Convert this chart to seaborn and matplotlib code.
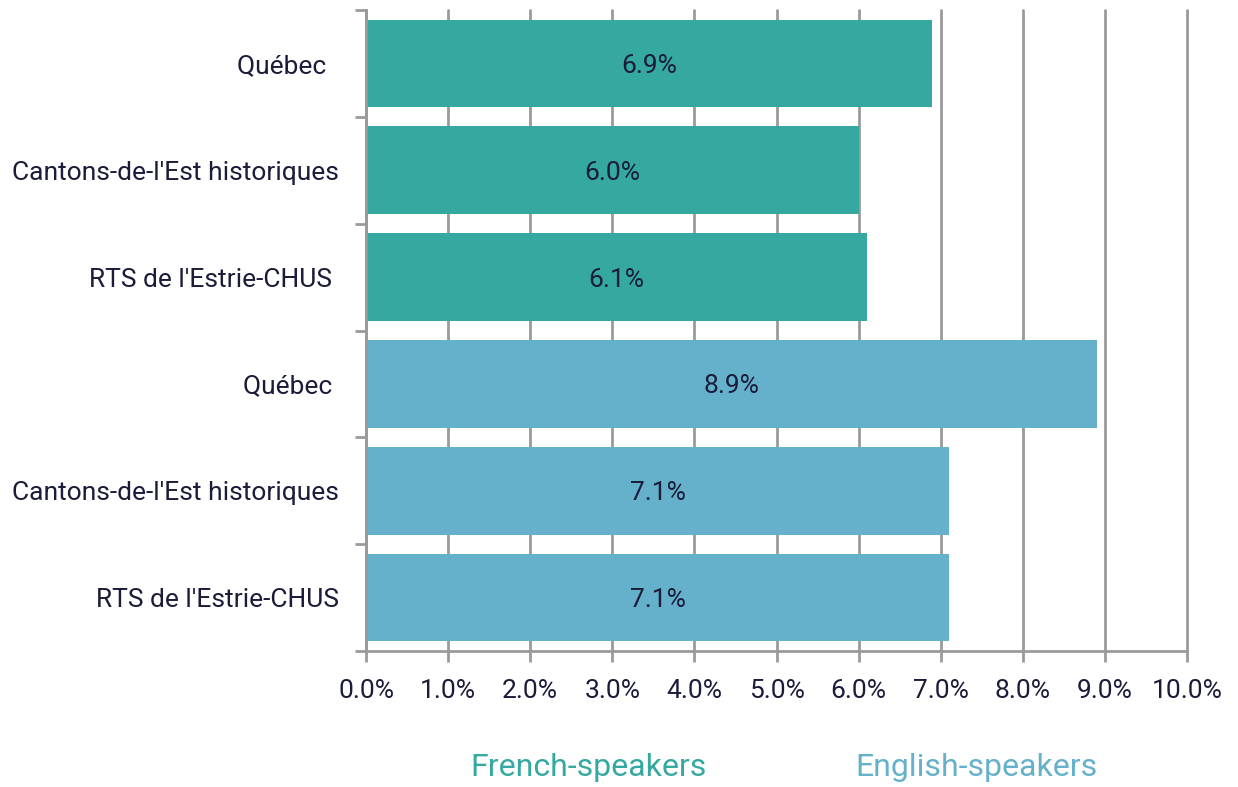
import pandas as pd
import matplotlib.pyplot as plt
import seaborn as sns

# Data
regions = ["Québec  ", "Cantons-de-l'Est historiques", "RTS de l'Estrie-CHUS ",
           "Québec ", "Cantons-de-l'Est historiques", "RTS de l'Estrie-CHUS"]
groups = ["French-speakers"] * 3 + ["English-speakers"] * 3
values = [6.9, 6.0, 6.1, 8.9, 7.1, 7.1]
xticks = [0, 1, 2, 3, 4, 5, 6, 7, 8, 9, 10]

colors = {"French-speakers": "#35A9A0", "English-speakers": "#65B1CB"}
text_color = "#1B1B3A"
grid_color = "#9A9A9A"

df = pd.DataFrame({"row": [str(i) for i in range(len(regions))],
                   "region": regions, "group": groups, "value": values})

sns.set_style("white")
plt.rcParams['font.family'] = ['Roboto', 'DejaVu Sans']

fig = plt.figure(figsize=(12.38, 7.87), dpi=100)
ax = fig.add_axes([366 / 1238, 1 - 651 / 787, (1187 - 366) / 1238, (651 - 10) / 787])

sns.barplot(data=df, x="value", y="row", hue="group", palette=colors,
            dodge=False, width=0.82, legend=False, orient="h", ax=ax,
            saturation=1, linewidth=0)

ax.set_xlim(0, 10)
ax.set_ylim(len(regions) - 0.5, -0.5)
ax.set_xticks(xticks)
ax.set_xticklabels([f"{t:.1f}%" for t in xticks], fontsize=19, color=text_color)

# category boundaries as ticks, labels at centres
n = len(regions)
ax.set_yticks([i - 0.5 for i in range(n + 1)])
ax.set_yticklabels([])
for i, lab in enumerate(regions):
    ax.text(-0.33, i, lab, ha="right", va="center_baseline", fontsize=19, color=text_color)

ax.tick_params(axis="x", length=8, width=2, color=grid_color, pad=12, direction="out", bottom=True)
ax.tick_params(axis="y", length=8, width=2, color=grid_color, direction="out", left=True)

ax.grid(axis="x", color=grid_color, linewidth=2)
for gl in ax.get_xgridlines():
    gl.set_clip_on(False)
ax.set_axisbelow(True)
for s in ["top", "right"]:
    ax.spines[s].set_visible(False)
for s in ["left", "bottom"]:
    ax.spines[s].set_color(grid_color)
    ax.spines[s].set_linewidth(2)
ax.set_xlabel("")
ax.set_ylabel("")

# value labels
for i, v in enumerate(values):
    ax.text(v / 2, i, f"{v:.1f}%", ha="center", va="center_baseline", fontsize=19, color=text_color)

# legend as coloured text
fig.text(589 / 1238, 1 - 767 / 787, "French-speakers", ha="center", va="center",
         fontsize=23, color=colors["French-speakers"])
fig.text(976 / 1238, 1 - 767 / 787, "English-speakers", ha="center", va="center",
         fontsize=23, color=colors["English-speakers"])

fig.savefig("out.png", dpi=100)
